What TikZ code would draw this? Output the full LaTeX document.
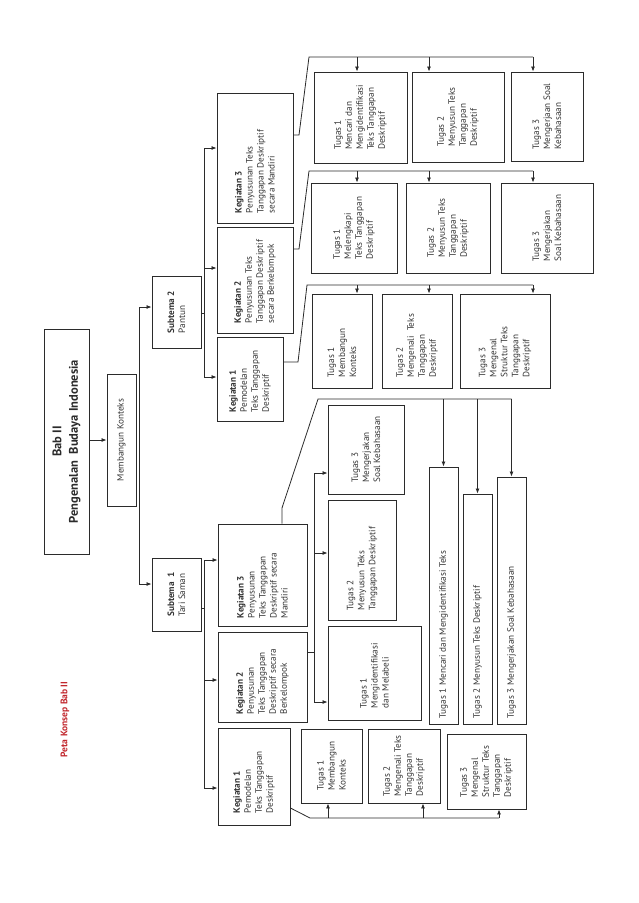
\documentclass[tikz,border=0pt]{standalone}
\usepackage{fontspec}
\setmainfont{PT Sans}
\usetikzlibrary{arrows.meta}
\definecolor{ink}{HTML}{2B2B2B}
\definecolor{txtc}{HTML}{333333}
\definecolor{redc}{HTML}{C1272D}
\newcommand\bx[5]{\node[box, minimum width={(#4)-(#2)}, minimum height={(#5)-(#3)}] (#1) at ({((#2)+(#4))/2},{((#3)+(#5))/2}) {};}
\newcommand\tc[2]{\node[txt] (#1t) at (#1.center) {#2};}
\newcommand\tb[3]{\node[txt, anchor=west] (#1t) at ([yshift=#3pt]#1.south) {#2};}
\begin{document}
\begin{tikzpicture}[x=1pt,y=-1pt,
  box/.style={draw=ink, line width=0.9pt, inner sep=0pt, rectangle},
  ln/.style={draw=ink, line width=0.8pt},
  arr/.style={ln, -{Latex[length=5pt,width=4pt]}},
  txt/.style={rotate=90, inner sep=0pt, align=left, font=\fontsize{9.2}{11}\selectfont, text=txtc},
]
\useasboundingbox (0,0) rectangle (638,903);

% ---------- boxes ----------
\bx{title}{44}{329}{89}{554}
\node[txt, align=center, font=\fontsize{12.5}{16.5}\selectfont\bfseries, text=ink] (titlet) at (title.center) {Bab II\\Pengenalan\ \ Budaya Indonesia};
\bx{mk}{107}{374}{136}{506}
\tc{mk}{Membangun Konteks}

\bx{st2}{152}{276}{201}{348}
\tc{st2}{\textbf{Subtema 2}\\Pantun}
\bx{st1}{152}{558}{201}{631}
\tc{st1}{\textbf{Subtema\ \ 1}\\Tari Saman}

\bx{k3s2}{217}{93}{293}{223}
\tb{k3s2}{\textbf{Kegiatan 3}\\Penyusunan Teks\\Tanggapan Deskriptif\\secara Mandiri}{10}
\bx{k2s2}{217}{227}{293}{333}
\tb{k2s2}{\textbf{Kegiatan 2}\\Penyusunan Teks\\Tanggapan Deskriptif\\secara Berkelompok}{10}
\bx{k1s2}{217}{337}{283}{421}
\tb{k1s2}{\textbf{Kegiatan 1}\\Pemodelan\\Teks Tanggapan\\Deskriptif}{9}

\bx{k3s1}{218}{524}{307}{626}
\tb{k3s1}{\textbf{Kegiatan 3}\\Penyusunan\\Teks Tanggapan\\Deskriptif secara\\Mandiri}{8}
\bx{k2s1}{218}{632}{307}{722}
\tb{k2s1}{\textbf{Kegiatan 2}\\Penyusunan\\Teks Tanggapan\\Deskriptif secara\\Berkelompok}{8}
\bx{k1s1}{218}{728}{290}{825}
\tb{k1s1}{\textbf{Kegiatan 1}\\Pemodelan\\Teks Tanggapan\\Deskriptif}{12}

% row 1
\bx{r1a}{314}{72}{407}{163}
\tc{r1a}{Tugas 1\\Mencari dan\\Mengidentifikasi\\Teks Tanggapan\\Deskriptif}
\bx{r1b}{412}{72}{504}{162}
\tc{r1b}{Tugas 2\\Menyusun Teks\\Tanggapan\\Deskriptif}
\bx{r1c}{511}{72}{583}{161}
\tc{r1c}{Tugas 3\\Mengerjaan Soal\\Kebahasaan}
% row 2
\bx{r2a}{311}{183}{397}{273}
\tc{r2a}{Tugas 1\\Melengkapi\\Teks Tanggapan\\Deskriptif}
\bx{r2b}{406}{183}{490}{273}
\tc{r2b}{Tugas 2\\Menyusun Teks\\Tanggapan\\Deskriptif}
\bx{r2c}{501}{183}{593}{273}
\tc{r2c}{Tugas 3\\Mengerjakan\\Soal Kebahasaan}
% row 3
\bx{r3a}{312}{294}{372}{388}
\tb{r3a}{Tugas 1\\Membangun\\Konteks}{11}
\bx{r3b}{382}{294}{452}{388}
\tb{r3b}{Tugas 2\\Mengenali\ \ Teks\\Tanggapan\\Deskriptif}{11}
\bx{r3c}{460}{294}{550}{388}
\tb{r3c}{Tugas 3\\Mengenal\\Struktur Teks\\Tanggapan\\Deskriptif}{11}
% middle (Kegiatan 2, subtema 1)
\bx{m3}{328}{405}{404}{494}
\tc{m3}{Tugas 3\\Mengerjakan\\Soal Kebahasaan}
\bx{m2}{328}{500}{396}{620}
\tb{m2}{Tugas 2\\Menyusun Teks\\Tanggapan Deskriptif}{10}
\bx{m1}{328}{626}{421}{720}
\tb{m1}{Tugas 1\\Mengidentifikasi\\dan Melabeli}{12}
% long boxes (Kegiatan 3, subtema 1)
\bx{la}{429}{467}{458}{724}
\tb{la}{Tugas 1 Mencari dan Mengidentifikasi Teks}{6}
\bx{lb}{463}{494}{492}{724}
\tb{lb}{Tugas 2 Menyusun Teks Deskriptif}{6}
\bx{lc}{497}{477}{526}{724}
\tb{lc}{Tugas 3 Mengerjakan Soal Kebahasaan}{6}
% lower boxes (Kegiatan 1, subtema 1)
\bx{l1}{301}{729}{362}{803}
\tc{l1}{Tugas 1\\Membangun\\Konteks}
\bx{l2}{368}{729}{440}{803}
\tc{l2}{Tugas 2\\Mengenali Teks\\Tanggapan\\Deskriptif}
\bx{l3}{447}{734}{526}{809}
\tc{l3}{Tugas 3\\Mengenal\\Struktur Teks\\Tanggapan\\Deskriptif}

% caption
\node[rotate=90, inner sep=0pt, font=\fontsize{9.5}{11}\selectfont\bfseries, text=redc] (cap) at (65,719.5) {Peta Konsep Bab II};

% ---------- connectors ----------
\draw[arr] (title.east |- mk.west) -- (mk.west);

\coordinate (sp2) at (139,307);
\coordinate (sp1) at (139,584);
\draw[ln] (sp2) -- (sp1);
\draw[arr] (sp2) -- (sp2 -| st2.west);
\draw[arr] (sp1) -- (sp1 -| st1.west);

% subtema 2 -> kegiatan
\coordinate (v2m) at (204,313);
\coordinate (v2a) at (204,148);
\coordinate (v2b) at (204,268);
\coordinate (v2c) at (204,377);
\draw[ln] (v2m -| st2.east) -- (v2m);
\draw[ln] (v2a) -- (v2c);
\draw[arr] (v2a) -- (v2a -| k3s2.west);
\draw[arr] (v2b) -- (v2b -| k2s2.west);
\draw[arr] (v2c) -- (v2c -| k1s2.west);

% subtema 1 -> kegiatan
\coordinate (v1m) at (204,608);
\coordinate (v1a) at (204,560);
\coordinate (v1b) at (204,680);
\coordinate (v1c) at (204,788);
\draw[ln] (v1m -| st1.east) -- (v1m);
\draw[ln] (v1a) -- (v1c);
\draw[arr] (v1a) -- (v1a -| k3s1.west);
\draw[arr] (v1b) -- (v1b -| k2s1.west);
\draw[arr] (v1c) -- (v1c -| k1s1.west);

% kegiatan 3 (s2) -> row 1
\coordinate (e1) at (299,135);
\coordinate (h1s) at (309,57);
\coordinate (h1a) at (357,57);
\coordinate (h1b) at (429,57);
\coordinate (h1e) at (533,57);
\draw[ln] (e1 -| k3s2.east) -- (e1) -- (h1s) -- (h1e);
\draw[arr] (h1a) -- (h1a |- r1a.north);
\draw[arr] (h1b) -- (h1b |- r1b.north);
\draw[arr] (h1e) -- (h1e |- r1c.north);

% kegiatan 2 (s2) -> row 2
\coordinate (e2) at (299,249);
\coordinate (h2s) at (309,171);
\coordinate (h2a) at (357,171);
\coordinate (h2b) at (429,171);
\coordinate (h2e) at (533,171);
\draw[ln] (e2 -| k2s2.east) -- (e2) -- (h2s) -- (h2e);
\draw[arr] (h2a) -- (h2a |- r2a.north);
\draw[arr] (h2b) -- (h2b |- r2b.north);
\draw[arr] (h2e) -- (h2e |- r2c.north);

% kegiatan 1 (s2) -> row 3
\coordinate (e3) at (298,362);
\coordinate (h3s) at (307,285);
\coordinate (h3a) at (357,285);
\coordinate (h3b) at (429,285);
\coordinate (h3e) at (533,285);
\draw[ln] (e3 -| k1s2.east) -- (e3) -- (h3s) -- (h3e);
\draw[arr] (h3a) -- (h3a |- r3a.north);
\draw[arr] (h3b) -- (h3b |- r3b.north);
\draw[arr] (h3e) -- (h3e |- r3c.north);

% kegiatan 3 (s1) -> long boxes
\coordinate (g0) at (282,508);
\coordinate (g1) at (318,399);
\draw[ln] (g0 |- k3s1.north) -- (g0) -- (g1) -- (g1 -| lc.north);
\draw[arr] (la.north |- g1) -- (la.north);
\draw[arr] (lb.north |- g1) -- (lb.north);
\draw[arr] (lc.north |- g1) -- (lc.north);

% kegiatan 2 (s1) -> middle boxes
\coordinate (f0) at (314,652);
\coordinate (fa) at (314,473);
\coordinate (fb) at (314,553);
\coordinate (fc) at (314,702);
\draw[ln] (f0 -| k2s1.east) -- (f0);
\draw[ln] (fa) -- (fc);
\draw[arr] (fa) -- (fa -| m3.west);
\draw[arr] (fb) -- (fb -| m2.west);
\draw[arr] (fc) -- (fc -| m1.west);

% kegiatan 1 (s1) -> lower boxes
\coordinate (d0) at (290,808);
\coordinate (d1) at (310,818);
\coordinate (da) at (328,818);
\coordinate (db) at (423,818);
\coordinate (dc) at (499,818);
\draw[ln] (d0 -| k1s1.east) -- (d1) -- (dc);
\draw[arr] (da) -- (da |- l1.south);
\draw[arr] (db) -- (db |- l2.south);
\draw[arr] (dc) -- (dc |- l3.south);
\end{tikzpicture}
\end{document}
